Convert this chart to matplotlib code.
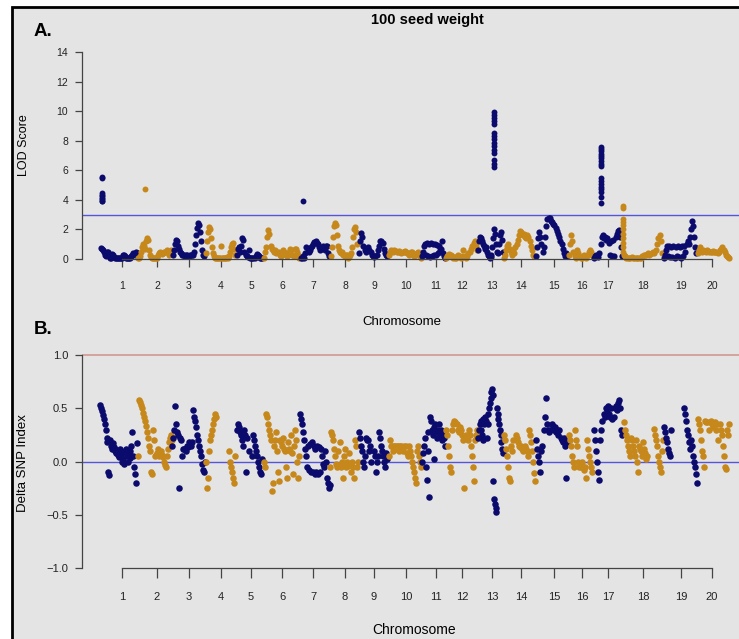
import numpy as np
import matplotlib.pyplot as plt
from matplotlib.patches import Rectangle

plt.rcParams['font.family'] = ['Liberation Sans', 'DejaVu Sans']

# chromosome layout on the cumulative axis (marker order units)
chrom_labels = [str(i) for i in range(1, 21)]
chrom_bounds = [0, 37, 72, 105, 136, 163, 200, 230, 258, 288, 322,
                345, 378, 403, 435, 468, 493, 523, 563, 597, 630]
tick_pos = [22, 57, 89, 121, 151, 182, 213, 245, 274, 306,
            336, 362, 392, 421, 454, 482, 508, 543, 581, 612]

# ----- A. LOD profile per chromosome (marker order) -----
lod_1 = [0.75, 0.7, 0.6, 0.45, 0.3, 0.2, 0.5, 0.45, 0.2, 0.1, 0.1, 0.35, 0.3, 0.15, 0.1, 0.05, 0.05,
         0.05, 0.1, 0.1, 0.05, 0.05, 0.25, 0.3, 0.2, 0.1, 0.05, 0.05, 0.1, 0.05, 0.2, 0.3, 0.4, 0.35,
         0.3, 0.45, 0.4]
lod_2 = [0.05, 0.1, 0.2, 0.5, 0.8, 1.0, 0.9, 0.7, 1.2, 1.45, 1.3, 0.6, 0.3, 0.15, 0.1, 0.05, 0.05,
         0.05, 0.1, 0.1, 0.3, 0.4, 0.45, 0.4, 0.35, 0.4, 0.45, 0.45, 0.5, 0.6, 0.55, 0.3, 0.5, 0.6]
lod_3 = [0.3, 0.6, 1.0, 1.3, 1.2, 0.9, 0.7, 0.5, 0.4, 0.3, 0.3, 0.25, 0.2, 0.25, 0.3, 0.2, 0.2, 0.25,
         0.3, 0.3, 0.3, 0.5, 1.0, 1.6, 2.1, 2.45, 2.3, 1.8, 1.2, 0.6, 0.3, 0.2]
lod_4 = [0.4, 1.2, 1.8, 2.15, 2.0, 1.4, 0.8, 0.4, 0.2, 0.1, 0.1, 0.05, 0.05, 0.1, 0.1, 0.85, 0.1, 0.05,
         0.05, 0.05, 0.1, 0.15, 0.1, 0.2, 0.5, 0.8, 1.0, 1.1, 0.7, 0.3]
lod_5 = [0.3, 0.7, 0.8, 0.5, 0.9, 1.4, 1.3, 0.5, 0.3, 0.2, 0.15, 0.6, 0.1, 0.1, 0.05, 0.1, 0.05, 0.2,
         0.35, 0.3, 0.2, 0.1, 0.05, 0.1]
lod_6 = [0.1, 0.5, 0.8, 1.5, 1.95, 1.7, 0.9, 0.7, 0.6, 0.5, 0.6, 0.4, 0.5, 0.45, 0.3, 0.2, 0.4, 0.6,
         0.5, 0.3, 0.2, 0.3, 0.5, 0.7, 0.6, 0.3, 0.2, 0.65, 0.7, 0.5, 0.3, 0.1]
lod_7 = [0.05, 0.1, 0.2, 0.1, 0.4, 0.8, 0.7, 0.5, 0.6, 0.8, 0.9, 1.0, 1.15, 1.2, 1.1, 1.0, 0.8, 0.6,
         0.7, 0.9, 0.8, 0.6, 0.85, 0.9, 0.4, 0.2]
lod_8 = [0.2, 0.8, 1.5, 2.2, 2.45, 2.3, 1.6, 0.9, 0.6, 0.5, 0.4, 0.45, 0.3, 0.3, 0.2, 0.25, 0.3, 0.1,
         0.15, 0.3, 0.4, 0.8, 1.5, 2.0, 2.15, 1.8, 1.0]
lod_9 = [0.4, 1.2, 1.75, 1.5, 0.9, 0.6, 0.5, 0.7, 0.8, 0.6, 0.5, 0.3, 0.2, 0.15, 0.2, 0.3, 0.6, 0.9,
         1.2, 1.25, 1.1, 0.7, 0.4, 0.3, 0.2]
lod_10 = [0.3, 0.5, 0.6, 0.55, 0.5, 0.6, 0.55, 0.45, 0.5, 0.55, 0.5, 0.4, 0.45, 0.5, 0.55, 0.5, 0.4,
          0.3, 0.4, 0.5, 0.45, 0.3, 0.2, 0.3, 0.4, 0.5, 0.35, 0.2, 0.1]
lod_11 = [0.2, 0.5, 0.9, 1.0, 0.3, 1.05, 0.2, 1.0, 0.15, 1.05, 0.2, 1.0, 0.3, 1.0, 0.25, 0.95, 0.4,
          0.85, 0.6, 0.7, 1.25, 0.4, 0.2, 0.1]
lod_12 = [0.1, 0.2, 0.3, 0.35, 0.3, 0.2, 0.1, 0.05, 0.1, 0.2, 0.25, 0.15, 0.1, 0.2, 0.6, 0.2, 0.1,
          0.2, 0.4, 0.5, 0.7, 0.9, 1.1, 1.2, 0.9, 0.6]
lod_13 = [0.6, 1.2, 1.5, 1.4, 1.2, 1.0, 0.9, 0.7, 0.8, 0.5, 0.3, 0.2, 0.1, 0.15, 0.3, 0.8, 1.4, 2.0,
          1.7, 1.0, 0.5, 0.4, 1.0, 1.6, 1.8, 1.3, 0.5]
lod_14 = [0.1, 0.3, 0.6, 0.9, 1.0, 0.7, 0.5, 0.3, 0.6, 0.4, 0.8, 1.0, 1.3, 1.6, 1.9, 1.8, 1.6, 1.7,
          1.5, 1.4, 1.6, 1.5, 1.2, 0.9, 0.6, 0.3, 0.2]
lod_15 = [0.2, 0.8, 1.4, 1.8, 1.5, 1.0, 0.5, 0.8, 1.5, 2.2, 2.7, 2.8, 2.75, 2.6, 2.5, 2.4, 2.3, 2.1,
          1.9, 1.7, 1.5, 1.2, 1.0, 0.7, 0.4, 0.2, 0.4, 0.2]
lod_16 = [0.3, 1.0, 1.6, 1.2, 0.5, 0.2, 0.1, 0.6, 0.4, 0.2, 0.1, 0.1, 0.2, 0.3, 0.2, 0.1, 0.3, 0.5,
          0.6, 0.5, 0.3]
lod_17 = [0.1, 0.2, 0.3, 0.2, 0.15, 0.4, 1.0, 1.5, 1.6, 1.4, 1.5, 1.3, 1.4, 1.1, 0.3, 1.2, 0.2, 1.3,
          0.2, 1.5, 1.7, 1.9, 1.95, 1.5, 0.8, 0.2]
lod_18 = [0.3, 0.2, 0.1, 0.1, 0.05, 0.1, 0.15, 0.1, 0.05, 0.05, 0.1, 0.05, 0.1, 0.1, 0.2, 0.3, 0.25,
          0.3, 0.4, 0.3, 0.35, 0.4, 0.5, 0.4, 0.6, 1.0, 1.4, 1.65, 1.2, 0.4]
lod_19 = [0.1, 0.3, 0.6, 0.9, 0.2, 0.85, 0.15, 0.8, 0.15, 0.85, 0.1, 0.8, 0.2, 0.85, 0.15, 0.8, 0.1,
          0.85, 0.2, 0.9, 0.5, 1.0, 1.2, 1.0, 1.5, 2.0, 2.6, 2.2, 1.5, 0.8, 0.4]
lod_20 = [0.4, 0.6, 0.8, 0.6, 0.5, 0.6, 0.55, 0.5, 0.6, 0.55, 0.5, 0.45, 0.5, 0.55, 0.5, 0.45, 0.5,
          0.4, 0.5, 0.6, 0.7, 0.8, 0.6, 0.5, 0.3, 0.2, 0.15, 0.1]

# significant marker stacks: chromosome, relative position, LOD values
hit_chrom = [1, 2, 7, 13, 17, 18]
hit_frac = [0.06, 0.23, 0.1, 0.62, 0.27, 0.01]
hit_lod_1 = [5.55, 5.45, 4.45, 4.35, 4.25, 4.15, 4.05, 3.95, 3.9]
hit_lod_2 = [4.7]
hit_lod_7 = [3.9]
hit_lod_13 = [9.95, 9.75, 9.55, 9.35, 9.15, 8.5, 8.3, 8.1, 7.85, 7.65, 7.4, 7.2, 6.7, 6.45, 6.2]
hit_lod_17 = [7.6, 7.45, 7.3, 7.1, 6.95, 6.8, 6.6, 6.45, 6.3, 5.5, 5.3, 5.1, 4.9, 4.75, 4.55, 4.2, 3.8]
hit_lod_18 = [3.6, 3.45, 2.7, 2.5, 2.3, 2.0, 1.7, 1.4, 1.1, 0.8, 0.5]

# ----- B. delta SNP index per chromosome (None = no marker) -----
dsnp_1 = [0.53, 0.5, 0.47, 0.44, 0.4, 0.35, 0.3, 0.22, 0.18, -0.1, -0.13, 0.2, 0.15, 0.12, 0.17, 0.14,
          0.1, 0.12, 0.08, 0.1, 0.06, 0.04, 0.12, 0.05, 0.0, 0.08, 0.02, -0.02, 0.1, 0.12, 0.05, 0.0,
          0.07, 0.03, 0.1, 0.15, 0.28, 0.05, -0.05, -0.12, -0.2, 0.17]
dsnp_2 = [0.05, 0.58, 0.56, 0.53, 0.5, 0.46, 0.42, 0.38, 0.33, 0.28, 0.22, 0.15, 0.1, -0.1, -0.12, 0.3,
          0.2, 0.05, 0.06, 0.08, 0.12, 0.05, 0.07, 0.1, 0.06, 0.04, 0.0, -0.03, -0.05, 0.05, 0.12, 0.18,
          0.22, 0.25, 0.2]
dsnp_3 = [0.15, 0.22, 0.3, 0.52, 0.35, 0.28, 0.25, -0.25, 0.22, 0.2, 0.05, 0.12, 0.12, 0.12, 0.1, 0.15,
          0.14, 0.18, 0.16, 0.15, 0.18, 0.48, 0.42, 0.38, 0.32, 0.25, 0.2, 0.15, 0.1, 0.05, -0.02, -0.08,
          -0.1, 0.0]
dsnp_4 = [0.0, -0.25, -0.15, 0.1, 0.2, 0.25, 0.3, 0.35, 0.4, 0.45, 0.42, None, None, None, None, None,
          None, None, None, None, None, None, None, 0.1, 0.0, -0.05, -0.1, -0.15, -0.2, 0.05]
dsnp_5 = [0.3, 0.35, 0.32, 0.28, 0.25, 0.2, 0.15, 0.3, 0.25, -0.1, 0.22, None, 0.1, None, None, 0.05,
          0.25, 0.2, 0.15, 0.1, 0.05, 0.0, -0.05, -0.1, -0.12, 0.02, None]
dsnp_6 = [0.0, -0.05, 0.45, 0.42, 0.35, 0.3, 0.25, 0.2, -0.28, -0.2, 0.15, 0.2, 0.28, 0.1, -0.1, -0.18,
          0.2, 0.18, 0.15, 0.22, 0.12, 0.1, -0.05, -0.15, 0.18, 0.12, 0.1, 0.25, 0.08, -0.12, 0.15, 0.3,
          0.2, 0.0, -0.15, 0.05]
dsnp_7 = [0.45, 0.4, 0.35, 0.28, 0.2, 0.12, 0.05, -0.05, 0.15, -0.08, 0.16, -0.1, 0.18, -0.1, 0.15,
          -0.12, 0.12, -0.1, 0.15, -0.12, 0.14, -0.1, 0.12, 0.05, -0.02, -0.05, 0.1, 0.0, -0.15, -0.2,
          -0.25, -0.22]
dsnp_8 = [-0.05, 0.28, 0.25, 0.2, 0.12, 0.05, -0.02, -0.05, 0.1, -0.03, 0.18, -0.05, 0.0, -0.15, 0.05,
          -0.03, 0.12, -0.05, 0.0, -0.04, 0.08, -0.03, -0.1, 0.0, -0.05, -0.15, 0.2, 0.15, -0.05, 0.0]
dsnp_9 = [0.28, 0.22, 0.15, 0.1, 0.0, -0.05, 0.05, 0.22, 0.2, 0.2, 0.1, 0.15, 0.0, None, 0.1, 0.05,
          -0.1, 0.0, 0.05, 0.28, 0.22, 0.15, 0.1, 0.05, 0.0, -0.05, 0.08, 0.02]
dsnp_10 = [0.05, 0.2, 0.15, 0.15, 0.1, 0.15, 0.15, 0.12, 0.15, 0.15, 0.1, 0.15, 0.15, 0.12, 0.1, 0.15,
           0.15, 0.08, 0.05, 0.15, 0.1, 0.05, 0.0, -0.05, -0.1, -0.15, -0.2, 0.1, 0.15, 0.05, 0.0, -0.05]
dsnp_11 = [0.0, 0.08, 0.15, 0.22, -0.05, -0.17, 0.1, 0.28, -0.33, 0.42, 0.38, 0.3, 0.25, 0.32, 0.02,
           0.35, 0.28, 0.22, 0.3, 0.35, 0.28, 0.25, 0.3, 0.2, 0.25, 0.22, 0.15]
dsnp_12 = [0.3, 0.25, 0.15, 0.05, -0.05, -0.1, 0.3, 0.35, 0.38, 0.37, 0.35, 0.3, 0.28, 0.32, 0.3, 0.25,
           0.2, -0.25, 0.22, 0.25, 0.2, 0.3, 0.25, 0.15, 0.05, -0.05, -0.18, 0.2, 0.25, 0.3]
dsnp_13 = [0.22, 0.3, 0.35, 0.38, 0.3, 0.25, 0.2, 0.4, 0.35, 0.42, 0.38, None, 0.22, 0.35, 0.45, 0.5,
           0.55, 0.6, 0.65, 0.68, 0.62, -0.18, -0.35, -0.4, -0.44, -0.47, 0.5, 0.45, 0.4, 0.35, 0.3,
           0.25, 0.18, 0.12, 0.08]
dsnp_14 = [0.25, 0.2, 0.12, 0.05, -0.05, -0.15, -0.18, 0.15, 0.1, 0.2, None, None, 0.25, 0.22, 0.18,
           0.15, 0.14, 0.15, 0.12, 0.1, 0.14, 0.15, 0.12, 0.1, 0.05, 0.3, 0.25, 0.18, 0.1, 0.0, -0.11, -0.18]
dsnp_15 = [0.2, 0.12, 0.05, 0.0, -0.1, 0.1, 0.15, 0.3, 0.42, 0.6, 0.35, 0.3, 0.28, 0.3, 0.35, 0.33, 0.3,
           0.32, 0.28, 0.3, 0.25, 0.3, 0.22, 0.2, 0.18, 0.22, 0.15, -0.15, 0.18]
dsnp_16 = [0.25, 0.2, 0.15, 0.05, 0.0, -0.05, 0.3, 0.2, 0.15, 0.0, -0.05, -0.05, 0.0, -0.05, -0.08,
           -0.05, -0.15, 0.2, 0.12, 0.05, 0.0, -0.05, -0.1]
dsnp_17 = [0.3, 0.2, 0.1, 0.0, -0.1, -0.17, 0.2, 0.3, 0.38, 0.45, 0.42, 0.5, 0.48, 0.52, 0.45, 0.42, 0.5,
           0.4, 0.42, 0.5, 0.52, 0.48, 0.55, 0.58, 0.5, 0.3, 0.25]
dsnp_18 = [0.37, 0.3, 0.25, 0.2, 0.15, 0.1, 0.05, 0.22, 0.2, 0.15, 0.1, 0.05, 0.2, 0.0, -0.1, 0.15, 0.12,
           0.1, 0.05, 0.18, 0.12, 0.08, 0.02, 0.05, None, None, None, None, None, None, 0.31, 0.25, 0.2,
           0.15, 0.05, 0.0, -0.05, -0.1, 0.1, 0.2]
dsnp_19 = [0.32, 0.28, 0.22, 0.18, 0.12, 0.08, 0.05, 0.3, None, None, None, None, None, None, None, None,
           None, None, None, None, 0.5, 0.45, 0.38, 0.3, 0.25, 0.18, 0.12, 0.2, 0.15, 0.05, 0.0, -0.05,
           -0.12, -0.2]
dsnp_20 = [0.4, 0.35, 0.3, 0.2, 0.1, 0.05, -0.05, 0.38, 0.37, 0.37, 0.3, 0.37, 0.38, 0.35, 0.32, 0.35,
           0.37, 0.3, 0.35, 0.2, 0.35, 0.3, 0.25, 0.15, 0.05, -0.05, -0.07, 0.3, 0.25, 0.35]

lod_all = [lod_1, lod_2, lod_3, lod_4, lod_5, lod_6, lod_7, lod_8, lod_9, lod_10,
           lod_11, lod_12, lod_13, lod_14, lod_15, lod_16, lod_17, lod_18, lod_19, lod_20]
dsnp_all = [dsnp_1, dsnp_2, dsnp_3, dsnp_4, dsnp_5, dsnp_6, dsnp_7, dsnp_8, dsnp_9, dsnp_10,
            dsnp_11, dsnp_12, dsnp_13, dsnp_14, dsnp_15, dsnp_16, dsnp_17, dsnp_18, dsnp_19, dsnp_20]
hit_lod_all = [hit_lod_1, hit_lod_2, hit_lod_7, hit_lod_13, hit_lod_17, hit_lod_18]

NAVY = '#0b0b6e'
GOLD = '#c6871b'
BG = '#e4e4e4'
AXC = '#444444'


def chrom_x(i, n):
    lo, hi = chrom_bounds[i], chrom_bounds[i + 1]
    return lo + (np.arange(n) + 0.5) * (hi - lo) / n


fig = plt.figure(figsize=(7.39, 6.39), dpi=100, facecolor='white')
fig.patches.append(Rectangle((12 / 739, -0.05), 1.0, 1 - 7 / 639 + 0.05, transform=fig.transFigure,
                             facecolor=BG, edgecolor='black', lw=2, zorder=-10))

W, H = 739, 639
ax1 = fig.add_axes([82 / W, (H - 270) / H, 657 / W, 230 / H])
ax2 = fig.add_axes([82 / W, (H - 600) / H, 657 / W, 260 / H])

for ax in (ax1, ax2):
    ax.set_facecolor('none')
    ax.set_xlim(-18, 639)
    ax.spines['top'].set_visible(False)
    ax.spines['right'].set_visible(False)
    ax.spines['left'].set_color(AXC)
    ax.spines['bottom'].set_color(AXC)
    ax.spines['left'].set_linewidth(0.9)
    ax.spines['bottom'].set_linewidth(0.9)
    ax.spines['bottom'].set_bounds(tick_pos[0], tick_pos[-1])
    ax.set_xticks(tick_pos)
    ax.set_xticklabels(chrom_labels)
    ax.tick_params(colors=AXC, labelcolor='#222222', width=0.9)

# panel A
ax1.set_ylim(-0.744, 14.81)
ax1.axhline(3, color='#5555d8', lw=1, zorder=1)
for i in range(20):
    vals = np.array(lod_all[i], dtype=float)
    ax1.scatter(chrom_x(i, len(vals)), vals, s=20, color=NAVY if i % 2 == 0 else GOLD,
                linewidths=0, zorder=2)
for c, f, vals in zip(hit_chrom, hit_frac, hit_lod_all):
    lo, hi = chrom_bounds[c - 1], chrom_bounds[c]
    ax1.scatter(np.full(len(vals), lo + f * (hi - lo)), vals, s=18,
                color=NAVY if c % 2 == 1 else GOLD, linewidths=0, zorder=3)
ax1.spines['left'].set_bounds(0, 14)
ax1.spines['bottom'].set_position(('data', 0))
ax1.set_yticks(range(0, 15, 2))
ax1.tick_params(axis='y', length=5, pad=5, labelsize=7.5)
ax1.tick_params(axis='x', length=5.5, pad=10, labelsize=7.5)

# panel B
ax2.set_ylim(-1.3, 1.141)
ax2.axhline(1.0, color='#d0928a', lw=1.1, zorder=1)
ax2.axhline(0.0, color='#5555d8', lw=1, zorder=1)
for i in range(20):
    vals = np.array(dsnp_all[i], dtype=float)
    ax2.scatter(chrom_x(i, len(vals)), vals, s=22, color=NAVY if i % 2 == 0 else GOLD,
                linewidths=0, zorder=2)
ax2.spines['left'].set_bounds(-1, 1)
ax2.spines['bottom'].set_position(('data', -1))
ax2.set_yticks([-1, -0.5, 0, 0.5, 1])
ax2.set_yticklabels(['\u22121.0', '\u22120.5', '0.0', '0.5', '1.0'])
ax2.tick_params(axis='y', length=5, pad=5, labelsize=8)
ax2.tick_params(axis='x', length=7, pad=10, labelsize=8)

# texts
fig.text(427 / W, 1 - 20 / H, '100 seed weight', ha='center', va='center', fontsize=10.5,
         fontweight='bold')
fig.text(43 / W, 1 - 31 / H, 'A.', ha='center', va='center', fontsize=13.5, fontweight='bold')
fig.text(43 / W, 1 - 329 / H, 'B.', ha='center', va='center', fontsize=13.5, fontweight='bold')
fig.text(24 / W, 1 - 145 / H, 'LOD Score', rotation=90, ha='center', va='center', fontsize=9)
fig.text(23 / W, 1 - 463 / H, 'Delta SNP Index', rotation=90, ha='center', va='center', fontsize=9.5)
fig.text(402 / W, 1 - 322 / H, 'Chromosome', ha='center', va='center', fontsize=9.5)
fig.text(414 / W, 1 - 630 / H, 'Chromosome', ha='center', va='center', fontsize=10)

fig.savefig('out.png', dpi=100, facecolor=fig.get_facecolor())
